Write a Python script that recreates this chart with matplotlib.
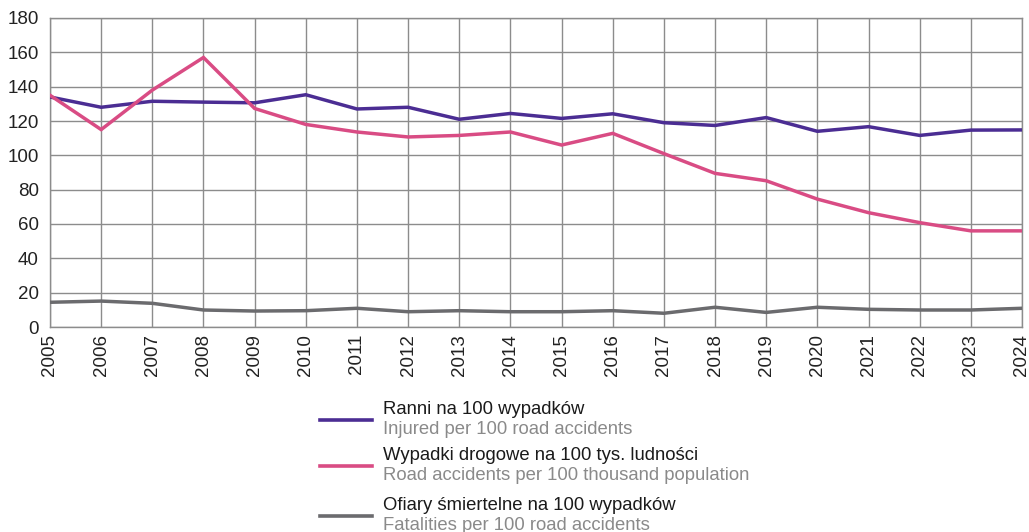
import matplotlib.pyplot as plt
from matplotlib.lines import Line2D

plt.rcParams['font.family'] = ['Liberation Sans', 'DejaVu Sans']

years = list(range(2005, 2025))

# Ranni na 100 wypadków
injured = [134, 128, 131.5, 131, 130.6, 135.3, 127, 128, 121, 124.4,
           121.5, 124.2, 119, 117.4, 122, 114, 116.7, 111.6, 114.7, 114.8]
# Wypadki drogowe na 100 tys. ludności
accidents = [135, 115, 138, 157, 127.3, 118, 113.6, 110.7, 111.6, 113.6,
             106, 112.8, 101, 89.5, 85.2, 74.5, 66.6, 60.8, 56, 56]
# Ofiary śmiertelne na 100 wypadków
fatalities = [14.4, 15.1, 13.8, 9.9, 9.3, 9.5, 10.9, 8.9, 9.5, 8.9,
              8.9, 9.5, 8.0, 11.5, 8.5, 11.5, 10.3, 9.9, 9.9, 10.9]

labels_pl = ['Ranni na 100 wypadków',
             'Wypadki drogowe na 100 tys. ludności',
             'Ofiary śmiertelne na 100 wypadków']
labels_en = ['Injured per 100 road accidents',
             'Road accidents per 100 thousand population',
             'Fatalities per 100 road accidents']
colors = ['#4b2d93', '#d94c84', '#6b6b6e']

fig = plt.figure(figsize=(10.29, 5.32), dpi=100)
ax = fig.add_axes([50 / 1029, 1 - 327 / 532, 972 / 1029, 309 / 532])

for series, c in zip([injured, accidents, fatalities], colors):
    ax.plot(years, series, color=c, lw=2.5, solid_joinstyle='miter', zorder=3)

ax.set_xlim(2005, 2024)
ax.set_ylim(0, 180)
ax.set_xticks(years)
ax.set_xticklabels([str(y) for y in years], rotation=90, fontsize=13.5)
ax.set_yticks(range(0, 181, 20))
ax.tick_params(axis='y', labelsize=13.5, length=0, pad=8, labelcolor='#222222')
ax.tick_params(axis='x', length=0, pad=5, labelcolor='#222222')
ax.grid(True, color='#8c8c8c', lw=1)
for s in ax.spines.values():
    s.set_color('#8c8c8c')
    s.set_linewidth(1)

# legend drawn by hand: line sample + Polish label + English label
rows = [420, 466, 516]
for y, c, pl, en in zip(rows, colors, labels_pl, labels_en):
    fy = 1 - y / 532
    fig.add_artist(Line2D([320 / 1029, 372 / 1029], [fy, fy], color=c, lw=2.6,
                          transform=fig.transFigure))
    fig.text(383 / 1029, 1 - (y - 10) / 532, pl, fontsize=13.3, color='#1a1a1a',
             va='center')
    fig.text(383 / 1029, 1 - (y + 9) / 532, en, fontsize=13.3, color='#8a8a8a',
             va='center')

fig.savefig('out.png', dpi=100)
